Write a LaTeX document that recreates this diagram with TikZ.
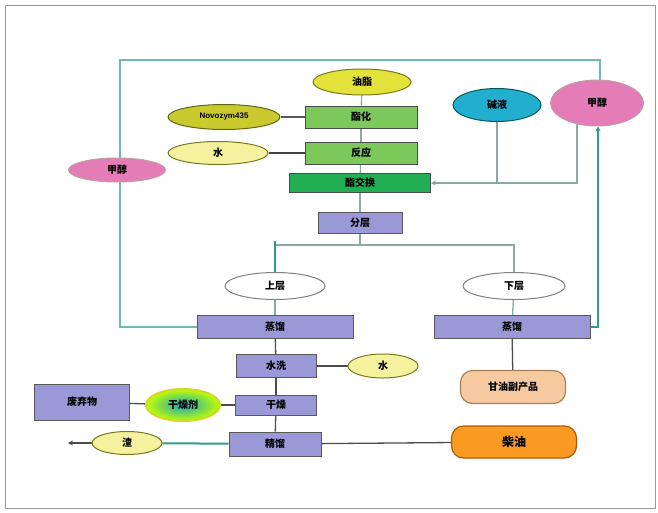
\documentclass[tikz,border=0pt]{standalone}
\usepackage{fontspec}
\setmainfont{Liberation Sans}
\newfontfamily\cjk{Noto Sans CJK SC}
\usetikzlibrary{shapes.geometric,arrows.meta,backgrounds}

\definecolor{framegray}{HTML}{9A9A9A}
\definecolor{linkgray}{HTML}{8AA8A4}
\definecolor{tealline}{HTML}{2E9C8C}
\definecolor{boxgreen}{HTML}{7CC85A}
\definecolor{darkgreen}{HTML}{22AE52}
\definecolor{lavender}{HTML}{9A98D6}
\definecolor{olive}{HTML}{CACA2E}
\definecolor{brightyellow}{HTML}{E2E23A}
\definecolor{paleyellow}{HTML}{F4F29E}
\definecolor{cyanfill}{HTML}{22AECF}
\definecolor{pinkfill}{HTML}{E47CB8}
\definecolor{peach}{HTML}{F7C9A0}
\definecolor{orangefill}{HTML}{FB9A22}

\begin{document}
\begin{tikzpicture}[x=1pt,y=-1pt,
  font=\cjk\bfseries\fontsize{10}{12}\selectfont,
  gbox/.style={rectangle, draw=gray!60!black, line width=1pt, fill=boxgreen, inner sep=0pt},
  pbox/.style={rectangle, draw=gray!70!black, line width=1pt, fill=lavender, inner sep=0pt},
  oval/.style={ellipse, draw=gray!70!black, line width=1pt, inner sep=0pt},
  pill/.style={rectangle, rounded corners=12pt, line width=1.2pt, inner sep=0pt},
  link/.style={draw=linkgray, line width=1.3pt},
  tlink/.style={draw=tealline, line width=2pt},
  looplink/.style={draw=tealline!70!white, line width=1.5pt},
  darklink/.style={draw=gray!50!black, line width=1.6pt},
  tip/.style={-{Stealth[length=5pt,width=5pt]}}
]
\useasboundingbox (0,0) rectangle (658,512);
\draw[framegray, line width=1pt] (5,5) rectangle (655,508);

% upper section: reaction stages
\node[oval, fill=brightyellow, draw=olive!60!black, minimum width=98pt, minimum height=26pt] (oil) at (362,82) {油脂};
\node[gbox, minimum width=112pt, minimum height=22pt] (esterify) at (361,117) {酯化};
\node[oval, fill=olive, draw=olive!50!black, minimum width=112pt, minimum height=25pt, font=\fontsize{8}{10}\selectfont\bfseries] (enzyme) at (224,117) {Novozym435};
\node[gbox, minimum width=112pt, minimum height=22pt] (react) at (361,153) {反应};
\node[oval, fill=paleyellow, draw=olive!60!black, minimum width=100pt, minimum height=23pt] (water1) at (218,153) {水};
\node[rectangle, draw=gray!60!black, line width=1pt, fill=darkgreen, inner sep=0pt, minimum width=141pt, minimum height=19pt] (trans) at (360,183) {酯交换};
\node[oval, fill=cyanfill, draw=teal!70!black, minimum width=88pt, minimum height=33pt] (lye) at (497,105) {碱液};
\node[oval, fill=pinkfill, draw=pink!50!gray, minimum width=93pt, minimum height=46pt] (meR) at (597,103) {甲醇};
\node[oval, fill=pinkfill, draw=pink!50!gray, minimum width=97pt, minimum height=24pt] (meL) at (117,170) {甲醇};
\node[pbox, minimum width=84pt, minimum height=21pt] (settle) at (360,223) {分层};

% split into two layers
\node[oval, fill=white, draw=gray, minimum width=100pt, minimum height=27pt] (upper) at (275,286) {上层};
\node[oval, fill=white, draw=gray, minimum width=102pt, minimum height=27pt] (lower) at (514,286) {下层};
\node[pbox, minimum width=156pt, minimum height=23pt] (distL) at (275,327) {蒸馏};
\node[pbox, minimum width=156pt, minimum height=23pt] (distR) at (512,327) {蒸馏};

% upper-layer refining
\node[pbox, minimum width=80pt, minimum height=23pt] (wash) at (276,366) {水洗};
\node[oval, fill=paleyellow, draw=olive!60!black, minimum width=70pt, minimum height=24pt] (water2) at (383,366) {水};
\node[pbox, minimum width=81pt, minimum height=20pt] (dry) at (276,405) {干燥};
\node[oval, inner color=cyanfill!80!teal, outer color=yellow!75!green, draw=olive!80!yellow, line width=2pt, minimum width=74pt, minimum height=32pt] (desic) at (183,405) {干燥剂};
\node[pbox, minimum width=95pt, minimum height=36pt] (waste) at (82,402) {废弃物};
\node[pbox, minimum width=92pt, minimum height=24pt] (refine) at (275,444) {精馏};
\node[oval, fill=paleyellow, draw=olive!60!black, minimum width=70pt, minimum height=23pt] (residue) at (127,443) {渣};
\coordinate (resout) at (68,443);

% products
\node[pill, fill=peach, draw=brown!60!gray, minimum width=105pt, minimum height=33pt] (glyc) at (513,387) {甘油副产品};
\node[pill, fill=orangefill, draw=orange!70!black, minimum width=125pt, minimum height=32pt, font=\cjk\bfseries\fontsize{12}{14}\selectfont] (diesel) at (514,442) {柴油};

% bends of the connectors
\coordinate (meRfoot) at (577,124);
\coordinate (split) at (360,245);
\coordinate (loopBL) at (120,327);
\coordinate (loopTL) at (120,60);
\coordinate (loopTR) at (600,60);
\coordinate (loopBR) at (598,327);

\begin{pgfonlayer}{background}
% connectors of the reaction stages
\draw[link] (oil) -- (esterify);
\draw[link] (esterify) -- (react);
\draw[link] (react) -- (trans);
\draw[link] (trans) -- (settle);
\draw[link, draw=gray!70!black] (enzyme) -- (esterify);
\draw[darklink] (water1) -- (react);
\draw[link] (lye.south) -- (lye.south |- trans.east);
\draw[link, tip] (meRfoot) -- (meRfoot |- trans.east) -- (trans.east);

% layer split
\draw[link] (settle) -- (split);
\draw[link] (upper.north |- split) -- (lower.north |- split) -- (lower.north);
\draw[tlink] (upper.north) -- ++(0,-31);
\draw[link] (upper) -- (distL);
\draw[link] (lower) -- (distR);

% methanol recovery loops
\draw[tlink, tip] (distR.east) -- (loopBR) -- (meR.south -| loopBR);
\draw[looplink] (distL.west) -- (loopBL) -- (loopTL) -- (loopTR) -- (meR.north -| loopTR);

% refining chain
\draw[link, draw=gray!60!black] (distL) -- (wash);
\draw[link, draw=gray!60!black] (wash) -- (water2);
\draw[link, draw=gray!60!black] (wash) -- (dry);
\draw[link, draw=gray!60!black] (dry) -- (desic);
\draw[link, draw=gray!60!black] (desic) -- (waste);
\draw[link, draw=gray!60!black] (dry) -- (refine);
\draw[tlink] (residue) -- (refine);
\draw[link, draw=gray!60!black, tip] (residue) -- (resout);
\draw[link, draw=gray!60!black] (refine) -- (diesel);
\draw[link, draw=gray!60!black] (distR) -- (glyc);
\end{pgfonlayer}
\end{tikzpicture}
\end{document}
